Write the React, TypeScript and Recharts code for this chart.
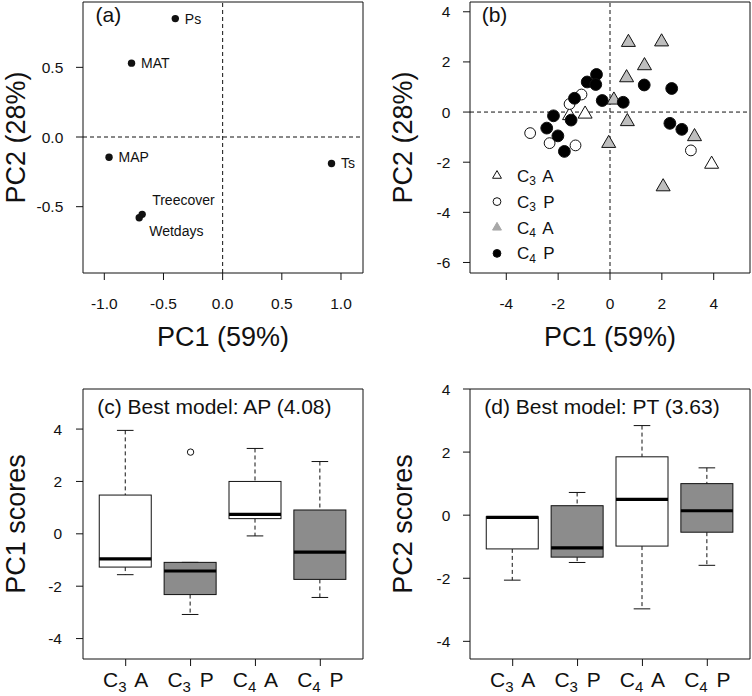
import React from "react";
import {
  ScatterChart,
  Scatter,
  ComposedChart,
  Bar,
  XAxis,
  YAxis,
  ReferenceArea,
  ReferenceLine,
  Legend,
} from "recharts";

const FONT = "'Liberation Sans', Arial, Helvetica, sans-serif";
const INK = "#111111";

// (a) variable loadings
const varNames = ["Ps", "MAT", "MAP", "Ts", "Treecover", "Wetdays"];
const loadPC1 = [-0.4, -0.77, -0.96, 0.92, -0.68, -0.705];
const loadPC2 = [0.85, 0.53, -0.145, -0.19, -0.555, -0.58];

// (b) species scores
const c3aPC1 = [-0.96, -1.56, 3.92];
const c3aPC2 = [-0.08, -0.14, -2.08];
const c3pPC1 = [-3.08, -2.33, -1.33, -1.56, -1.1, 3.12];
const c3pPC2 = [-0.84, -1.24, -1.33, 0.32, 0.7, -1.53];
const c4aPC1 = [0.71, 1.99, 1.33, 0.64, 0.15, 0.67, -0.05, 3.26, 2.05];
const c4aPC2 = [2.78, 2.8, 1.85, 1.37, 0.48, -0.38, -1.25, -0.98, -2.98];
const c4pPC1 = [-0.52, -0.88, -0.55, -1.37, -0.3, 0.51, 1.32, 2.38, -2.18, -2.44, -2.01, -1.76, 2.31, 2.77, -1.5];
const c4pPC2 = [1.5, 1.2, 1.1, 0.55, 0.46, 0.39, 1.08, 0.94, -0.15, -0.64, -0.95, -1.57, -0.45, -0.69, -0.32];

// (c)/(d) box plots
const groupSub = ["3", "3", "4", "4"];
const groupType = ["A", "P", "A", "P"];
const pc1Lo = [-1.56, -3.08, -0.08, -2.43];
const pc1Q1 = [-1.27, -2.32, 0.58, -1.74];
const pc1Med = [-0.96, -1.42, 0.74, -0.7];
const pc1Q3 = [1.48, -1.09, 2.0, 0.91];
const pc1Hi = [3.95, -1.09, 3.26, 2.76];
const pc1OutGroup = [2];
const pc1OutVal = [3.12];
const pc2Lo = [-2.06, -1.5, -2.97, -1.59];
const pc2Q1 = [-1.07, -1.33, -0.98, -0.54];
const pc2Med = [-0.07, -1.04, 0.5, 0.14];
const pc2Q3 = [-0.05, 0.3, 1.85, 1.0];
const pc2Hi = [-0.05, 0.72, 2.84, 1.5];

const boxFill = ["#ffffff", "#8c8c8c", "#ffffff", "#8c8c8c"];

const A_X = [-1.18, 1.186];
const A_Y = [-0.976, 0.969];
const B_X = [-5.4, 5.4];
const B_Y = [-6.42, 4.39];
const C_Y = [-4.78, 5.53];
const D_Y = [-4.56, 4.0];
const BOX_X = [0.342, 4.658];

const loadings = varNames.map((name, i) => ({ name, x: loadPC1[i], y: loadPC2[i] }));
const zip = (xs: number[], ys: number[]) => xs.map((x, i) => ({ x, y: ys[i] }));
const c3a = zip(c3aPC1, c3aPC2);
const c3p = zip(c3pPC1, c3pPC2);
const c4a = zip(c4aPC1, c4aPC2);
const c4p = zip(c4pPC1, c4pPC2);

const makeBoxes = (lo: number[], q1: number[], med: number[], q3: number[], hi: number[]) =>
  groupSub.map((s, i) => ({ pos: i + 1, lo: lo[i], q1: q1[i], med: med[i], q3: q3[i], hi: hi[i], fill: boxFill[i] }));
const pc1Boxes = makeBoxes(pc1Lo, pc1Q1, pc1Med, pc1Q3, pc1Hi);
const pc2Boxes = makeBoxes(pc2Lo, pc2Q1, pc2Med, pc2Q3, pc2Hi);
const pc1Outliers = pc1OutGroup.map((g, i) => ({ pos: g, val: pc1OutVal[i] }));

const tickStyle = { fill: INK, fontSize: 15.5, fontFamily: FONT };
const f1 = (v: number) => v.toFixed(1);

const labelPlace: Record<string, { dx: number; dy: number }> = {
  Treecover: { dx: 10, dy: -9.5 },
  Wetdays: { dx: 10, dy: 18.5 },
};

const LoadingDot = (p: any) => {
  const { cx, cy, payload } = p;
  const pl = labelPlace[payload.name] ?? { dx: 9.5, dy: 5 };
  return (
    <g>
      <circle cx={cx} cy={cy} r={3.7} fill={INK} />
      <text x={cx + pl.dx} y={cy + pl.dy} fontSize={14} fontFamily={FONT} fill={INK}>
        {payload.name}
      </text>
    </g>
  );
};

const triPoints = (cx: number, cy: number, xc: number) =>
  `${cx},${cy - 1.555 * xc} ${cx + 1.347 * xc},${cy + 0.778 * xc} ${cx - 1.347 * xc},${cy + 0.778 * xc}`;

const triShape = (fill: string) => (p: any) => (
  <polygon points={triPoints(p.cx, p.cy, 5.2)} fill={fill} stroke={INK} strokeWidth={1} />
);
const circShape = (fill: string) => (p: any) => (
  <circle cx={p.cx} cy={p.cy} r={fill === "#ffffff" ? 5.4 : 5.9} fill={fill} stroke={INK} strokeWidth={1} />
);

const BoxShape = (p: any) => {
  const { x, y, width, height, payload } = p;
  const { lo, q1, med, q3, hi, fill } = payload;
  const top = Math.min(y, y + height);
  const h = Math.abs(height);
  const ppu = h / (hi - lo);
  const py = (v: number) => top + (hi - v) * ppu;
  const cx = x + width / 2;
  const st = 8.3;
  return (
    <g>
      <line x1={cx} x2={cx} y1={py(hi)} y2={py(q3)} stroke={INK} strokeDasharray="4 3" />
      <line x1={cx} x2={cx} y1={py(q1)} y2={py(lo)} stroke={INK} strokeDasharray="4 3" />
      <line x1={cx - st} x2={cx + st} y1={py(hi)} y2={py(hi)} stroke={INK} />
      <line x1={cx - st} x2={cx + st} y1={py(lo)} y2={py(lo)} stroke={INK} />
      <rect x={x} y={py(q3)} width={width} height={py(q1) - py(q3)} fill={fill} stroke={INK} strokeWidth={1} />
      <line x1={x} x2={x + width} y1={py(med)} y2={py(med)} stroke="#000" strokeWidth={3.2} />
    </g>
  );
};

const OutlierShape = (p: any) => <circle cx={p.cx} cy={p.cy} r={3.2} fill="none" stroke={INK} strokeWidth={1} />;

const GroupTick = (p: any) => {
  const { x, y, payload } = p;
  const i = payload.value - 1;
  return (
    <text x={x} y={y + 18.5} textAnchor="middle" fontSize={21} fontFamily={FONT} fill={INK}>
      <tspan>C</tspan>
      <tspan fontSize={15} dy={5}>
        {groupSub[i]}
      </tspan>
      <tspan dy={-5} dx={3}>
        {" " + groupType[i]}
      </tspan>
    </text>
  );
};

const panelTag = (text: string, dx: number, dy: number) => (props: any) => {
  const vb = props.viewBox;
  return (
    <text x={vb.x + dx} y={vb.y + dy} fontSize={21} fontFamily={FONT} fill={INK}>
      {text}
    </text>
  );
};

const xTitle = (text: string) => (props: any) => {
  const vb = props.viewBox;
  return (
    <text x={vb.x + vb.width / 2} y={345.7} textAnchor="middle" fontSize={27} fontFamily={FONT} fill={INK}>
      {text}
    </text>
  );
};

const yTitle = (text: string) => (props: any) => {
  const vb = props.viewBox;
  const bx = vb.x + vb.width - 58.5;
  const cy = vb.y + vb.height / 2;
  return (
    <text x={bx} y={cy} transform={`rotate(-90, ${bx}, ${cy})`} textAnchor="middle" fontSize={27} fontFamily={FONT} fill={INK}>
      {text}
    </text>
  );
};

const legendRows = [
  { sub: "3", type: "A", kind: "tri", fill: "#ffffff" },
  { sub: "3", type: "P", kind: "circ", fill: "#ffffff" },
  { sub: "4", type: "A", kind: "tri", fill: "#a8a8a8" },
  { sub: "4", type: "P", kind: "circ", fill: "#000000" },
];

const LegendBox = () => (
  <svg width={100} height={110} style={{ display: "block" }}>
    {legendRows.map((r, i) => {
      const cy = 15.7 + i * 25.9;
      return (
        <g key={i}>
          {r.kind === "tri" ? (
            <polygon points={triPoints(11, cy, 3.3)} fill={r.fill} stroke={r.fill === "#ffffff" ? INK : r.fill} strokeWidth={1} />
          ) : (
            <circle cx={11} cy={cy} r={3.9} fill={r.fill} stroke={INK} strokeWidth={1} />
          )}
          <text x={31} y={cy + 6} fontSize={17} fontFamily={FONT} fill={INK}>
            <tspan>C</tspan>
            <tspan fontSize={12} dy={3.5}>
              {r.sub}
            </tspan>
            <tspan dy={-3.5} dx={2.5}>
              {" " + r.type}
            </tspan>
          </text>
        </g>
      );
    })}
  </svg>
);

const axisCommon = {
  axisLine: false,
  tickSize: 7,
  tickLine: { stroke: INK },
  tick: tickStyle,
  allowDataOverflow: true,
};

export default function App() {
  return (
    <div style={{ position: "absolute", left: 0, top: 0, width: 752, height: 696, background: "#fff" }}>
      {/* (a) */}
      <div style={{ position: "absolute", left: 0, top: 0 }}>
        <ScatterChart width={376} height={360} margin={{ top: 2, right: 13, bottom: 12, left: 0 }}>
          <XAxis type="number" dataKey="x" domain={A_X} ticks={[-1, -0.5, 0, 0.5, 1]} tickFormatter={f1} tickMargin={17.5} height={75} label={xTitle("PC1 (59%)")} {...axisCommon} />
          <YAxis type="number" dataKey="y" domain={A_Y} ticks={[-0.5, 0, 0.5]} tickFormatter={f1} tickMargin={12.7} width={83} label={yTitle("PC2 (28%)")} {...axisCommon} />
          <ReferenceArea x1={A_X[0]} x2={A_X[1]} y1={A_Y[0]} y2={A_Y[1]} fill="none" stroke={INK} strokeWidth={1} label={panelTag("(a)", 12.5, 19.5)} />
          <ReferenceLine x={0} stroke={INK} strokeDasharray="4 3" />
          <ReferenceLine y={0} stroke={INK} strokeDasharray="4 3" />
          <Scatter data={loadings} shape={LoadingDot} isAnimationActive={false} />
        </ScatterChart>
      </div>

      {/* (b) */}
      <div style={{ position: "absolute", left: 376, top: 0 }}>
        <ScatterChart width={376} height={360} margin={{ top: 2, right: 2, bottom: 12, left: 0 }}>
          <XAxis type="number" dataKey="x" domain={B_X} ticks={[-4, -2, 0, 2, 4]} tickMargin={17.5} height={75} label={xTitle("PC1 (59%)")} {...axisCommon} />
          <YAxis type="number" dataKey="y" domain={B_Y} ticks={[-6, -4, -2, 0, 2, 4]} tickMargin={12.7} width={94} label={yTitle("PC2 (28%)")} {...axisCommon} />
          <ReferenceArea x1={B_X[0]} x2={B_X[1]} y1={B_Y[0]} y2={B_Y[1]} fill="none" stroke={INK} strokeWidth={1} label={panelTag("(b)", 11.7, 19.5)} />
          <ReferenceLine x={0} stroke={INK} strokeDasharray="4 3" />
          <ReferenceLine y={0} stroke={INK} strokeDasharray="4 3" />
          <Scatter data={c3a} shape={triShape("#ffffff")} isAnimationActive={false} />
          <Scatter data={c3p} shape={circShape("#ffffff")} isAnimationActive={false} />
          <Scatter data={c4a} shape={triShape("#bebebe")} isAnimationActive={false} />
          <Scatter data={c4p} shape={circShape("#000000")} isAnimationActive={false} />
          <Legend
            layout="horizontal"
            verticalAlign="middle"
            align="center"
            wrapperStyle={{ left: 110, top: 160, width: 100, height: 110 }}
            content={() => <LegendBox />}
          />
        </ScatterChart>
      </div>

      {/* (c) */}
      <div style={{ position: "absolute", left: 0, top: 360 }}>
        <ComposedChart width={376} height={336} data={pc1Boxes} margin={{ top: 29, right: 13, bottom: 0, left: 0 }}>
          <XAxis type="number" dataKey="pos" domain={BOX_X} ticks={[1, 2, 3, 4]} height={37} {...axisCommon} tick={<GroupTick />} />
          <YAxis type="number" domain={C_Y} ticks={[-4, -2, 0, 2, 4]} tickMargin={14} width={83} label={yTitle("PC1 scores")} {...axisCommon} />
          <ReferenceArea x1={BOX_X[0]} x2={BOX_X[1]} y1={C_Y[0]} y2={C_Y[1]} fill="none" stroke={INK} strokeWidth={1} label={panelTag("(c) Best model: AP (4.08)", 14.3, 24.8)} />
          <Bar dataKey={(d: any) => [d.lo, d.hi]} barSize={52} shape={BoxShape} isAnimationActive={false} />
          <Scatter data={pc1Outliers} dataKey="val" shape={OutlierShape} isAnimationActive={false} />
        </ComposedChart>
      </div>

      {/* (d) */}
      <div style={{ position: "absolute", left: 376, top: 360 }}>
        <ComposedChart width={376} height={336} data={pc2Boxes} margin={{ top: 29, right: 2, bottom: 0, left: 0 }}>
          <XAxis type="number" dataKey="pos" domain={BOX_X} ticks={[1, 2, 3, 4]} height={37} {...axisCommon} tick={<GroupTick />} />
          <YAxis type="number" domain={D_Y} ticks={[-4, -2, 0, 2, 4]} tickMargin={12.7} width={94} label={yTitle("PC2 scores")} {...axisCommon} />
          <ReferenceArea x1={BOX_X[0]} x2={BOX_X[1]} y1={D_Y[0]} y2={D_Y[1]} fill="none" stroke={INK} strokeWidth={1} label={panelTag("(d) Best model: PT (3.63)", 14.3, 24.8)} />
          <Bar dataKey={(d: any) => [d.lo, d.hi]} barSize={52} shape={BoxShape} isAnimationActive={false} />
        </ComposedChart>
      </div>
    </div>
  );
}
